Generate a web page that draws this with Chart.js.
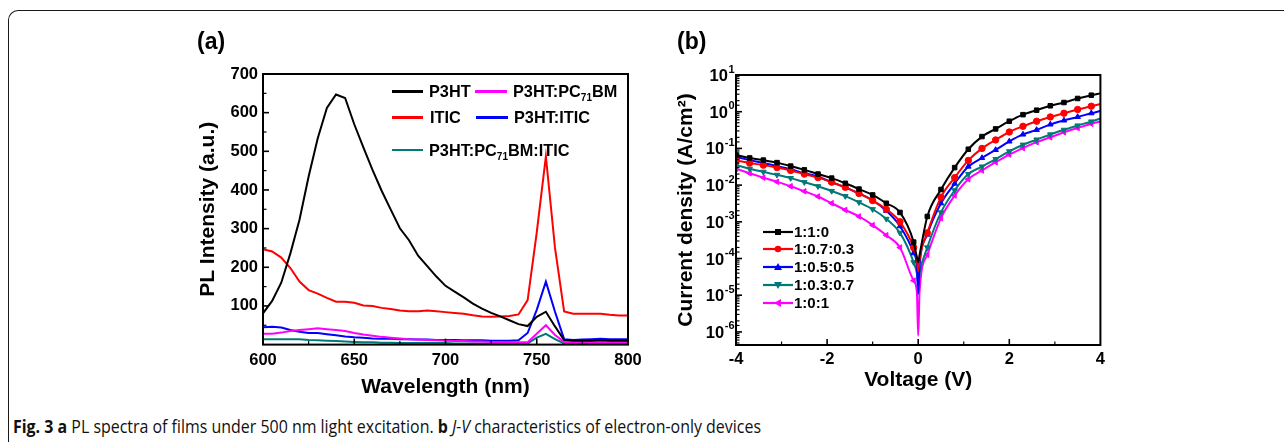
<!DOCTYPE html>
<html><head><meta charset="utf-8">
<script src="https://cdn.jsdelivr.net/npm/chart.js@4.4.0/dist/chart.umd.min.js"></script>
<style>
html,body{margin:0;padding:0;background:#fff;}
body{width:1284px;height:442px;overflow:hidden;position:relative;font-family:"Liberation Sans",Arial,sans-serif;}
#frame{position:absolute;left:8px;top:10px;width:1400px;height:500px;border-left:1.6px solid #1a1a1a;border-top:1.6px solid #1a1a1a;border-top-left-radius:10px;box-sizing:border-box;}
canvas{position:absolute;}
.plabel{position:absolute;font-weight:bold;font-size:23px;line-height:1;}
.lg{position:absolute;font-weight:bold;white-space:nowrap;line-height:1;color:#000;}
.lg sub{font-size:10px;vertical-align:-4px;line-height:0;}
.ln{position:absolute;}
#caption{position:absolute;left:13px;top:417px;font-family:"Open Sans","Noto Sans",sans-serif;font-size:18px;line-height:1;white-space:nowrap;display:inline-block;transform-origin:0 0;color:#111;}
#caption b{font-weight:700;}
</style></head>
<body>
<div id="frame"></div>
<canvas id="ca" width="470" height="350" style="left:180px;top:50px;"></canvas>
<canvas id="cb" width="470" height="350" style="left:640px;top:50px;"></canvas>
<div class="plabel" style="left:197px;top:30px;">(a)</div>
<div class="plabel" style="left:677px;top:30px;">(b)</div>
<div id="legA"></div>
<div id="legB"></div>
<div id="caption"><b>Fig. 3</b> <b>a</b> PL spectra of films under 500 nm light excitation. <b>b</b> <i>J-V</i> characteristics of electron-only devices</div>
<script>
// ---------- Panel (a) data ----------
const wavelength = [600,605,610,615,620,625,630,635,640,645,650,655,660,665,670,675,680,685,690,695,700,705,710,715,720,725,730,735,740,745,750,755,760,765,770,775,780,785,790,795,800];
const namesA = ['P3HT','ITIC','P3HT:PC71BM','P3HT:ITIC','P3HT:PC71BM:ITIC'];
const plP3HT = [81,113,160,236,323,435,534,612,647,638,570,510,452,398,349,301,270,230,203,176,152,137,122,106,93,82,73,63,53,48,72,85,47,12,10,10,10,11,10,10,10];
const plITIC = [247,241,225,198,163,141,132,121,111,111,108,101,100,95,92,88,86,86,88,86,84,82,80,76,73,72,73,74,78,115,290,487,250,86,80,80,80,80,77,75,75];
const plP3HT_PCBM = [28,28,31,35,38,40,42,40,38,35,30,26,23,20,18,16,14,13,12,11,10,9,9,8,8,7,7,6,6,6,28,50,25,7,6,6,6,6,6,6,6];
const plP3HT_ITIC = [45,46,44,38,33,30,30,27,24,21,19,18,16,15,15,14,14,13,13,12,12,12,11,11,11,10,10,10,11,30,90,163,85,14,12,13,14,15,14,14,14];
const plTernary = [14,14,14,14,14,12,11,10,9,8,7,6,6,5,5,4,4,4,4,4,4,3,3,3,3,3,3,3,3,3,18,28,14,3,3,3,3,3,3,3,3];
const xTicksA = [600,650,700,750,800];
const yTicksA = [100,200,300,400,500,600,700];

// ---------- Panel (b) data ----------
const voltage = [-4.0,-3.7,-3.4,-3.1,-2.8,-2.5,-2.2,-1.9,-1.6,-1.3,-1.0,-0.7,-0.4,-0.1,-0.03,0,0.03,0.2,0.5,0.8,1.1,1.4,1.7,2.0,2.3,2.6,2.9,3.2,3.5,3.8,4.0];
const namesB = ['1:1:0','1:0.7:0.3','1:0.5:0.5','1:0.3:0.7','1:0:1'];
const j110 = [0.066,0.055,0.048,0.041,0.033,0.026,0.020,0.0155,0.0112,0.0078,0.0054,0.0032,0.0018,2.8e-4,1.1e-4,7.9e-5,1.26e-4,1.4e-3,7.6e-3,0.030,0.095,0.21,0.34,0.55,0.83,1.10,1.45,1.78,2.29,2.82,3.16];
const j1073 = [0.047,0.040,0.035,0.030,0.025,0.020,0.016,0.012,0.0087,0.0059,0.0038,0.0022,0.0010,2.0e-4,1.0e-4,4.5e-5,1.0e-4,5.0e-4,4.7e-3,0.016,0.047,0.10,0.17,0.28,0.40,0.55,0.72,0.91,1.15,1.41,1.62];
const j1055 = [0.058,0.048,0.040,0.033,0.027,0.021,0.017,0.012,0.0087,0.0059,0.0038,0.0020,7.6e-4,1.4e-4,6.3e-5,1.1e-5,6.3e-5,4.5e-4,3.2e-3,0.011,0.032,0.055,0.091,0.155,0.24,0.32,0.45,0.58,0.72,0.91,1.05];
const j1037 = [0.035,0.028,0.023,0.019,0.0155,0.012,0.0093,0.0069,0.0050,0.0034,0.0022,0.0012,5.0e-4,7.9e-5,4.0e-5,2.0e-5,4.0e-5,2.0e-4,1.8e-3,7.2e-3,0.020,0.032,0.051,0.083,0.126,0.174,0.24,0.32,0.42,0.54,0.65];
const j101 = [0.028,0.021,0.016,0.0123,0.0093,0.0068,0.0049,0.0032,0.0021,0.0014,8.1e-4,4.3e-4,2.0e-4,2.5e-5,1.26e-5,7.9e-7,1.26e-5,1.26e-4,1.26e-3,5.2e-3,0.0145,0.025,0.042,0.068,0.102,0.148,0.20,0.275,0.36,0.47,0.54];
const xTicksB = [-4,-2,0,2,4];

// ---------- styles ----------
const colA = ['#000000','#ff0000','#ff00ff','#0000ff','#007a78'];
const colB = ['#000000','#ff0000','#0000ff','#007a78','#ff00ff'];
const ptStyle = [['rect',0],['circle',0],['triangle',0],['triangle',180],['triangle',270]];
const hiddenMarks = new Set([14,15,16,30]);
const FONT = '"Liberation Sans", Arial, sans-serif';
Chart.defaults.font.family = FONT;
Chart.defaults.font.weight = 'bold';
Chart.defaults.color = '#000';

const frameTicks = {
  id:'frameTicks',
  afterDraw(chart){
    const {ctx, chartArea:a} = chart;
    ctx.save();
    ctx.strokeStyle = '#000';
    ['x','y'].forEach(id=>{
      const s = chart.scales[id];
      s.ticks.forEach(t=>{
        const major = t.label !== '' && t.label !== undefined && t.label !== null;
        const len = major ? 6 : 3.5;
        ctx.lineWidth = major ? 1.6 : 1.2;
        const p = s.getPixelForValue(t.value);
        if (id==='x'){ if (p < a.left+1 || p > a.right-1) return;
          ctx.beginPath(); ctx.moveTo(p,a.bottom); ctx.lineTo(p,a.bottom-len); ctx.stroke(); }
        else { if (p < a.top+1 || p > a.bottom-1) return;
          ctx.beginPath(); ctx.moveTo(a.left,p); ctx.lineTo(a.left+len,p); ctx.stroke(); }
      });
    });
    ctx.lineWidth = 2;
    ctx.strokeRect(a.left, a.top, a.right-a.left, a.bottom-a.top);
    ctx.restore();
  }
};

// draws "10" with a raised exponent for log-axis tick labels
const powerLabels = {
  id:'powerLabels',
  afterDraw(chart){
    const {ctx, chartArea:a} = chart;
    const s = chart.scales.y;
    ctx.save();
    ctx.fillStyle = '#000';
    s.ticks.forEach(t=>{
      if (!t.label) return;
      const e = Math.round(Math.log10(t.value));
      const p = s.getPixelForValue(t.value);
      const ex = String(e);
      ctx.font = 'bold 11px ' + FONT;
      const ew = ctx.measureText(ex).width;
      ctx.textAlign = 'right';
      ctx.textBaseline = 'alphabetic';
      ctx.fillText(ex, a.left - 1.5, p - 2.5);
      ctx.font = 'bold 16.5px ' + FONT;
      ctx.textBaseline = 'middle';
      ctx.fillText('10', a.left - 2 - ew, p + 1.5);
    });
    ctx.restore();
  }
};

const seriesA = [plP3HT, plITIC, plP3HT_PCBM, plP3HT_ITIC, plTernary];
new Chart(document.getElementById('ca'), {
  type:'line',
  data:{ datasets: seriesA.map((arr,i)=>({
    label: namesA[i], data: wavelength.map((w,k)=>({x:w,y:arr[k]})),
    borderColor: colA[i], backgroundColor: colA[i], borderWidth:2, pointRadius:0, tension:0, fill:false
  })) },
  options:{
    responsive:false, animation:false, devicePixelRatio:1,
    layout:{padding:{left:0,right:22,top:24,bottom:0}},
    plugins:{legend:{display:false}, tooltip:{enabled:false}},
    scales:{
      x:{type:'linear', min:600, max:800,
        afterFit(s){ s.height = 55.4; },
        grid:{display:false, drawTicks:false}, border:{display:false},
        ticks:{stepSize:25, autoSkip:false, maxRotation:0, padding:5.5, font:{size:16.5, weight:'bold'},
          callback:v=> xTicksA.includes(v) ? String(v) : ''},
        title:{display:true, text:'Wavelength (nm)', font:{size:21, weight:'bold'}, padding:{top:0,bottom:0}}
      },
      y:{type:'linear', min:0, max:700,
        afterFit(s){ s.width = 83; },
        grid:{display:false, drawTicks:false}, border:{display:false},
        ticks:{stepSize:50, autoSkip:false, padding:5, font:{size:16.5, weight:'bold'},
          callback:v=> yTicksA.includes(v) ? String(v) : ''},
        title:{display:true, text:'PL Intensity (a.u.)', font:{size:21, weight:'bold'}, padding:{top:15.7,bottom:0}}
      }
    }
  },
  plugins:[frameTicks]
});

const seriesB = [j110, j1073, j1055, j1037, j101];
new Chart(document.getElementById('cb'), {
  type:'line',
  data:{ datasets: seriesB.map((arr,i)=>({
    label: namesB[i], data: voltage.map((v,k)=>({x:v,y:arr[k]})),
    borderColor: colB[i], backgroundColor: colB[i], borderWidth:2, tension:0, cubicInterpolationMode:'monotone',
    pointStyle: ptStyle[i][0], rotation: ptStyle[i][1], pointBorderWidth:1,
    pointRadius: c => hiddenMarks.has(c.dataIndex) ? 0 : 3.2, fill:false
  })) },
  options:{
    responsive:false, animation:false, devicePixelRatio:1,
    layout:{padding:{left:0,right:9,top:25,bottom:0}},
    plugins:{legend:{display:false}, tooltip:{enabled:false}},
    scales:{
      x:{type:'linear', min:-4, max:4,
        afterFit(s){ s.height = 55; },
        grid:{display:false, drawTicks:false}, border:{display:false},
        ticks:{stepSize:1, autoSkip:false, maxRotation:0, padding:5, font:{size:16.5, weight:'bold'},
          callback:v=> xTicksB.includes(v) ? String(v) : ''},
        title:{display:true, text:'Voltage (V)', font:{size:21, weight:'bold'}, padding:{top:0,bottom:7.4}}
      },
      y:{type:'logarithmic', min:4.4e-7, max:10,
        afterFit(s){ s.width = 96; },
        grid:{display:false, drawTicks:false}, border:{display:false},
        ticks:{autoSkip:false, padding:1, color:'rgba(0,0,0,0)', font:{size:16.5, weight:'bold'},
          callback:v=>{ const e = Math.log10(v); const r = Math.round(e);
            return Math.abs(e-r) > 1e-6 ? '' : '1e' + r; }},
        title:{display:true, text:'Current density (A/cm\u00B2)', font:{size:21, weight:'bold'}, padding:{top:34,bottom:0}}
      }
    }
  },
  plugins:[frameTicks, powerLabels]
});

// ---------- legends (HTML) ----------
function rich(n){ return n.replace('PC71','PC<sub>71</sub>'); }
const legPosA = [
  {x1:392,x2:423,y:91.7,tx:429},
  {x1:392,x2:423,y:117.3,tx:430},
  {x1:475,x2:507,y:91.7,tx:513},
  {x1:476,x2:508,y:117.3,tx:514},
  {x1:392,x2:423,y:150,tx:429}
];
let h = '';
namesA.forEach((n,i)=>{
  const p = legPosA[i];
  h += `<div class="ln" style="left:${p.x1}px;top:${p.y-1.25}px;width:${p.x2-p.x1}px;height:2.5px;background:${colA[i]}"></div>`;
  h += `<div class="lg" style="left:${p.tx}px;top:${p.y-8.5}px;font-size:16.3px;">${rich(n)}</div>`;
});
document.getElementById('legA').innerHTML = h;

const legYB = [231.7,249,267.3,285,303.3];
function marker(i,c){
  const cx=15, cy=6;
  switch(i){
    case 0: return `<rect x="${cx-3}" y="${cy-3}" width="6" height="6" fill="${c}"/>`;
    case 1: return `<circle cx="${cx}" cy="${cy}" r="3.3" fill="${c}"/>`;
    case 2: return `<polygon points="${cx},${cy-4} ${cx+4},${cy+3} ${cx-4},${cy+3}" fill="${c}"/>`;
    case 3: return `<polygon points="${cx},${cy+4} ${cx+4},${cy-3} ${cx-4},${cy-3}" fill="${c}"/>`;
    default: return `<polygon points="${cx-4},${cy} ${cx+3},${cy-4} ${cx+3},${cy+4}" fill="${c}"/>`;
  }
}
h = '';
namesB.forEach((n,i)=>{
  const y = legYB[i];
  h += `<svg class="ln" style="left:763px;top:${y-6}px" width="30" height="12"><line x1="0" y1="6" x2="30" y2="6" stroke="${colB[i]}" stroke-width="2.2"/>${marker(i,colB[i])}</svg>`;
  h += `<div class="lg" style="left:794px;top:${y-8}px;font-size:15px;">${n}</div>`;
});
document.getElementById('legB').innerHTML = h;

// caption width fit
const cap = document.getElementById('caption');
const cw = cap.getBoundingClientRect().width;
cap.style.transform = `scaleX(${748/cw})`;
</script>
</body></html>
